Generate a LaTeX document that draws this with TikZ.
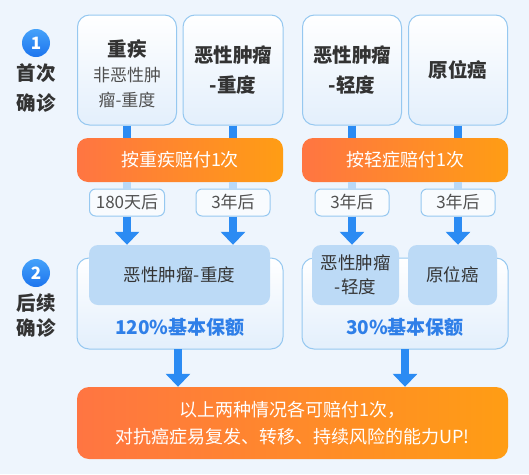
\documentclass[tikz,border=0pt]{standalone}
\usepackage{fontspec}
\setmainfont{Noto Sans CJK SC}
\usetikzlibrary{arrows.meta,calc}
\definecolor{bgc}{HTML}{EEF5FD}
\definecolor{bord}{HTML}{96C8F0}
\definecolor{boxbot}{HTML}{E3EFFC}
\definecolor{innerc}{HTML}{BCDAF6}
\definecolor{arrc}{HTML}{2B8BF3}
\definecolor{fadec}{HTML}{B9D9F8}
\definecolor{orl}{HTML}{FF7542}
\definecolor{orr}{HTML}{FF9D14}
\definecolor{titc}{HTML}{333333}
\definecolor{subc}{HTML}{4F4F4F}
\definecolor{pctc}{HTML}{2F7FE8}
\definecolor{circt}{HTML}{45A2FA}
\definecolor{circb}{HTML}{1C74EE}
\newcommand{\subfont}{\mdseries\fontsize{17}{25}\selectfont\color{subc}}
\tikzset{
  topbox/.style={draw=bord, line width=1pt, rounded corners=12pt, top color=white, bottom color=boxbot, minimum height=110pt, inner sep=0pt, align=center, text=titc, font=\bfseries\fontsize{19.5}{30}\selectfont},
  boxtext/.style={align=center, text=titc, inner sep=0pt, font=\bfseries\fontsize{19.5}{25}\selectfont},
  orbar/.style={rounded corners=11pt, left color=orl, right color=orr, minimum width=206pt, minimum height=44pt, text=white, font=\fontsize{18}{22}\selectfont, inner sep=0pt},
  tagbox/.style={draw=bord, line width=1pt, rounded corners=6pt, fill=white!60!bgc, minimum height=27pt, minimum width=74pt, text=titc!85!white, font=\fontsize{17}{20}\selectfont, inner sep=0pt},
  outerbox/.style={draw=bord, line width=1pt, rounded corners=12pt, top color=white, bottom color=boxbot, minimum width=206pt, minimum height=91pt, inner sep=0pt},
  innerbox/.style={fill=innerc, rounded corners=9pt, minimum height=60pt, inner sep=0pt, align=center, text=titc, font=\fontsize{17.5}{24}\selectfont},
  pct/.style={text=pctc, font=\bfseries\fontsize{19}{22}\selectfont, inner sep=0pt},
  conn/.style={draw=arrc, line width=8pt},
  fade/.style={draw=fadec, line width=8pt},
  arr/.style={draw=arrc, line width=8pt, -{Triangle[width=24pt,length=13pt]}},
  numc/.style={circle, minimum size=28pt, inner sep=0pt, top color=circt, bottom color=circb, text=white, font=\bfseries\fontsize{17}{20}\selectfont},
  sidelab/.style={align=center, text=titc, font=\bfseries\fontsize{19.5}{30}\selectfont, inner sep=0pt},
  botbar/.style={rounded corners=12pt, left color=orl, right color=orr, minimum width=431pt, minimum height=72pt, text=white, font=\fontsize{18}{27}\selectfont, align=center, inner sep=0pt}
}
\begin{document}
\begin{tikzpicture}[x=1pt,y=-1pt]
\fill[bgc] (0,0) rectangle (529,474);
\useasboundingbox (0,0) rectangle (529,474);
% left labels
\node[numc] (n1) at (36,43) {1};
\node[sidelab] (s1) at (36,88) {首次\\确诊};
\node[numc] (n2) at (36,273) {2};
\node[sidelab, font=\bfseries\fontsize{19.5}{25}\selectfont] (s2) at (36,315.5) {后续\\确诊};
% top boxes
\node[topbox, minimum width=99pt] (b1) at (127,70) {};
\node[boxtext] (b1t) at (127,73.5) {重疾\\\subfont 非恶性肿\\\subfont 瘤-重度};
\node[topbox, minimum width=100pt] (b2) at (233,70) {恶性肿瘤\\-重度};
\node[topbox, minimum width=99pt] (b3) at (352,70) {恶性肿瘤\\-轻度};
\node[topbox, minimum width=99pt] (b4) at (458,70) {原位癌};
% orange bars
\node[orbar] (o1) at (180,160) {按重疾赔付1次};
\node[orbar] (o2) at (405,160) {按轻症赔付1次};
% connectors top
\foreach \b/\o in {b1/o1,b2/o1,b3/o2,b4/o2}{
  \draw[conn] (\b.south) -- (\b.south |- \o.north);
}
% tags
\node[tagbox, minimum width=75pt] (t1) at (127,202.5) {180天后};
\node[tagbox] (t2) at (233,202.5) {3年后};
\node[tagbox] (t3) at (352,202.5) {3年后};
\node[tagbox] (t4) at (458,202.5) {3年后};
\foreach \t/\o in {t1/o1,t2/o1,t3/o2,t4/o2}{
  \draw[fade] (\t.north |- \o.south) -- (\t.north);
}
% second row
\node[outerbox] (u1) at (180,303.5) {};
\node[outerbox] (u2) at (405,303.5) {};
\node[innerbox, minimum width=181pt] (i1) at (179.5,275) {恶性肿瘤-重度};
\node[innerbox, minimum width=87pt] (i2) at (355.5,275) {恶性肿瘤\\-轻度};
\node[innerbox, minimum width=89pt] (i3) at (452.5,275) {原位癌};
\node[pct] (p1) at (180,327) {120\%基本保额};
\node[pct] (p2) at (405,327) {30\%基本保额};
\draw[arr] (t1.south) -- (t1.south |- i1.north);
\draw[arr] (t2.south) -- (t2.south |- i1.north);
\draw[arr] (t3.south) -- (t3.south |- i2.north);
\draw[arr] (t4.south) -- (t4.south |- i3.north);
% bottom
\node[botbar] (bb) at (292.5,423) {以上两种情况各可赔付1次，\\对抗癌症易复发、转移、持续风险的能力UP!};
\coordinate (d1) at (178,349);
\coordinate (d2) at (405,349);
\draw[arr] (d1) -- (d1 |- bb.north);
\draw[arr] (d2) -- (d2 |- bb.north);
\end{tikzpicture}
\end{document}
